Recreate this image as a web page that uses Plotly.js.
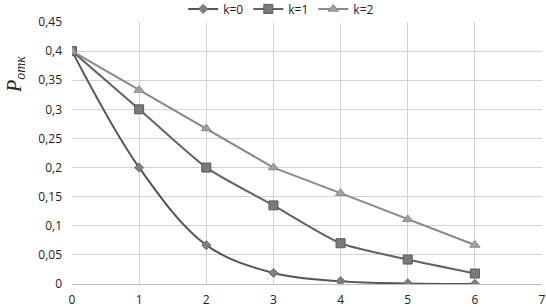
<!DOCTYPE html>
<html><head><meta charset="utf-8">
<script src="https://cdn.plot.ly/plotly-3.0.1.min.js"></script>
<style>html,body{margin:0;padding:0;background:#fff}#c{width:546px;height:308px}</style>
</head><body><div id="c"></div>
<script>
const xs = [0,1,2,3,4,5,6];
const k0 = [0.4,0.2,0.0667,0.019,0.0048,0.001,0.0002];
const k1 = [0.4,0.3,0.2,0.135,0.07,0.042,0.018];
const k2 = [0.4,0.333,0.267,0.2,0.156,0.111,0.067];
const names = ['k=0','k=1','k=2'];
const xTicks = [0,1,2,3,4,5,6,7];
const yTicks = [0,0.05,0.1,0.15,0.2,0.25,0.3,0.35,0.4,0.45];
const yLabels = ['0','0,05','0,1','0,15','0,2','0,25','0,3','0,35','0,4','0,45'];
const traces = [
 {x:xs,y:k0,name:names[0],mode:'lines+markers',line:{color:'#555555',width:2,shape:'spline',smoothing:1},marker:{symbol:'diamond',size:7,color:'#7f7f7f',line:{color:'#6a6a6a',width:1}}},
 {x:xs,y:k1,name:names[1],mode:'lines+markers',line:{color:'#636363',width:2,shape:'spline',smoothing:0.6},marker:{symbol:'square',size:9,color:'#7a7a7a',line:{color:'#5a5a5a',width:1}}},
 {x:xs,y:k2,name:names[2],mode:'lines+markers',line:{color:'#8a8a8a',width:2},marker:{symbol:'triangle-up',size:9,color:'#a0a0a0',line:{color:'#8a8a8a',width:1}}}
];
const layout = {
 width:546,height:308,margin:{l:72,r:4,t:22,b:24,autoexpand:false},
 paper_bgcolor:'#fff',plot_bgcolor:'#fff',
 font:{family:'"Open Sans", "Noto Sans", sans-serif',size:12,color:'#222'},
 showlegend:true,
 legend:{orientation:'h',x:0.445,xanchor:'center',y:1.05,yanchor:'middle',font:{size:12},itemwidth:30,tracegroupgap:0},
 xaxis:{range:[0,7],tickvals:xTicks,showgrid:true,gridcolor:'#d3d3d3',gridwidth:1,zeroline:false,showline:true,linecolor:'#bdbdbd',ticks:'',ticklabelstandoff:5,tickfont:{size:12},fixedrange:true,automargin:false},
 yaxis:{range:[0,0.45],tickvals:yTicks,ticktext:yLabels,showgrid:true,gridcolor:'#d3d3d3',gridwidth:1,zeroline:false,showline:false,ticks:'',ticklabelstandoff:9,tickfont:{size:12},fixedrange:true,automargin:false},
 annotations:[{xref:'paper',yref:'paper',x:-0.12,xanchor:'center',y:0.8,yanchor:'middle',text:'<i>P<sub>отк</sub></i>',showarrow:false,textangle:-90,font:{family:'"Liberation Serif","DejaVu Serif",serif',size:20,color:'#222'}}]
};
Plotly.newPlot('c',traces,layout,{displayModeBar:false,staticPlot:true});
</script></body></html>
